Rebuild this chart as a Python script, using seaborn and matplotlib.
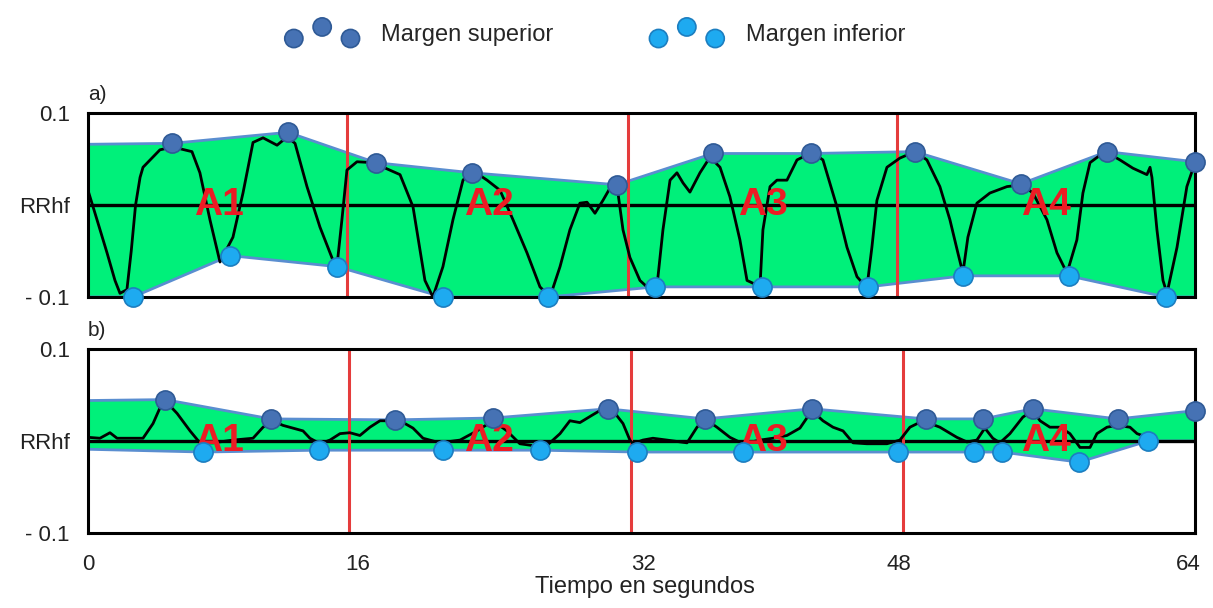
import matplotlib
matplotlib.use("Agg")
import matplotlib.pyplot as plt
import seaborn as sns
import pandas as pd

# =====================================================
# Data
# =====================================================

# panel a: RRhf signal
a_t = [0, 0.52, 1.10, 1.56, 1.85, 2.25, 2.50, 2.75, 3.01, 3.18, 4.16, 4.91, 6.01, 6.47,
       7.05, 7.63, 8.38, 8.96, 9.54, 10.12, 10.93, 11.51, 11.97, 12.66, 13.41, 14.16,
       14.39, 14.68, 14.97, 15.55, 16.48, 18.04, 18.79, 19.48, 19.94, 20.52, 21.10,
       21.68, 22.20, 23.07, 23.82, 24.57, 25.38, 26.13, 26.71, 27.29, 27.86, 28.44,
       28.85, 29.31, 29.77, 30.35, 30.64, 30.93, 31.33, 31.91, 32.49, 32.89, 33.24,
       33.65, 34.05, 34.40, 34.80, 35.38, 35.96, 36.54, 37.11, 37.69, 38.10, 38.44,
       38.85, 39.02, 39.43, 39.83, 40.41, 40.99, 41.85, 42.49, 43.30, 43.88, 44.46,
       45.03, 45.32, 45.61, 46.19, 46.94, 47.81, 48.50, 49.25, 49.83, 50.29, 50.58,
       50.87, 51.39, 52.14, 53.13, 54.00, 54.63, 55.44, 56.02, 56.60, 57.17, 57.52,
       57.93, 58.50, 58.91, 59.66, 60.41, 61.22, 61.40, 61.51, 61.80, 62.15, 62.38,
       62.96, 63.53, 64.00]
a_rr = [0.016, -0.016, -0.052, -0.082, -0.096, -0.092, -0.050, 0.000, 0.030, 0.041, 0.060,
        0.063, 0.058, 0.035, -0.016, -0.062, -0.035, 0.013, 0.068, 0.073, 0.065, 0.074,
        0.067, 0.020, -0.024, -0.060, -0.067, -0.016, 0.038, 0.047, 0.046, 0.033, -0.002,
        -0.082, -0.100, -0.067, -0.016, 0.027, 0.038, 0.027, 0.016, -0.016, -0.052, -0.089,
        -0.100, -0.067, -0.027, 0.002, 0.003, -0.009, 0.005, 0.024, 0.013, -0.027, -0.057,
        -0.082, -0.092, -0.089, -0.027, 0.027, 0.035, 0.024, 0.014, 0.035, 0.052, 0.041,
        0.009, -0.038, -0.082, -0.085, -0.089, -0.027, 0.020, 0.027, 0.027, 0.049, 0.057,
        0.049, -0.002, -0.046, -0.078, -0.090, -0.046, 0.005, 0.041, 0.051, 0.058, 0.049,
        0.020, -0.016, -0.052, -0.074, -0.035, 0.002, 0.013, 0.020, 0.022, 0.013, -0.016,
        -0.052, -0.074, -0.038, 0.013, 0.046, 0.054, 0.057, 0.049, 0.040, 0.033, 0.041,
        0.030, -0.027, -0.082, -0.096, -0.046, 0.020, 0.046]

# panel a: upper / lower margin points
a_sup_t = [0, 4.86, 11.56, 16.65, 22.20, 30.58, 36.13, 41.80, 47.80, 53.94, 58.90, 64.0]
a_sup = [0.066, 0.067, 0.079, 0.046, 0.035, 0.022, 0.056, 0.056, 0.058, 0.023, 0.058, 0.047]
a_inf_t = [0, 2.60, 8.21, 14.40, 20.50, 26.60, 32.80, 38.96, 45.10, 50.60, 56.70, 62.30, 64.0]
a_inf = [-0.100, -0.100, -0.055, -0.067, -0.100, -0.100, -0.089, -0.089, -0.089, -0.077,
         -0.077, -0.100, -0.100]

# panel b: RRhf signal
b_t = [0, 0.69, 1.27, 1.68, 3.18, 3.76, 4.16, 4.45, 5.15, 5.90, 6.47, 7.23, 8.38, 9.54,
       10.12, 10.64, 11.27, 11.85, 12.43, 12.83, 13.41, 13.99, 14.57, 15.14, 15.72,
       16.30, 16.88, 17.75, 18.04, 18.79, 19.37, 20.35, 21.51, 22.49, 23.41, 24.22,
       24.97, 25.73, 26.53, 27.29, 27.86, 28.44, 29.14, 29.77, 30.35, 30.93, 31.33,
       31.51, 32.08, 32.66, 33.47, 34.63, 35.21, 35.67, 36.36, 37.11, 37.87, 38.85,
       39.60, 40.41, 41.16, 41.85, 42.49, 43.07, 43.65, 44.23, 45.03, 46.19, 46.94,
       47.52, 48.27, 49.25, 50.23, 50.81, 51.39, 51.85, 52.31, 52.72, 53.30, 54.05,
       54.63, 55.04, 55.61, 56.19, 56.77, 57.35, 57.93, 58.33, 58.91, 59.49, 60.24,
       60.65, 61.40]
b_rr = [0.004, 0.003, 0.009, 0.003, 0.003, 0.019, 0.036, 0.044, 0.030, 0.011, -0.002,
        -0.002, 0.001, 0.003, 0.015, 0.022, 0.017, 0.014, 0.011, 0.003, -0.003, 0.001,
        0.008, 0.009, 0.006, 0.015, 0.022, 0.022, 0.022, 0.014, 0.003, -0.002, 0.001,
        0.011, 0.022, 0.011, -0.003, -0.005, -0.005, 0.008, 0.022, 0.020, 0.028, 0.035,
        0.033, 0.019, 0.001, -0.003, 0.001, 0.003, 0.001, -0.002, 0.015, 0.024, 0.015,
        0.004, -0.003, 0.001, 0.003, 0.006, 0.014, 0.033, 0.022, 0.015, 0.011, -0.002,
        -0.003, -0.003, 0.001, 0.015, 0.022, 0.015, 0.004, -0.001, 0.001, 0.014, 0.003,
        -0.002, 0.008, 0.026, 0.033, 0.022, 0.015, 0.015, 0.008, -0.007, -0.007, 0.008,
        0.015, 0.017, 0.015, 0.008, 0.003]

# panel b: upper / lower margin points
b_sup_t = [0, 4.45, 10.58, 17.75, 23.41, 30.06, 35.67, 41.85, 48.44, 51.74, 54.63, 59.54, 64.0]
b_sup = [0.044, 0.045, 0.024, 0.023, 0.025, 0.035, 0.024, 0.035, 0.024, 0.024, 0.035,
         0.024, 0.033]
b_inf_t = [0, 6.65, 13.35, 20.52, 26.13, 31.74, 37.87, 46.83, 51.22, 52.84, 57.29, 61.28, 64.0]
b_inf = [-0.009, -0.012, -0.010, -0.010, -0.010, -0.012, -0.012, -0.012, -0.012, -0.012,
         -0.023, 0.000, 0.000]

# segment borders (red lines) and segment labels
a_borders = [15.0, 31.2, 46.8]
b_borders = [15.1, 31.4, 47.1]
seg_labels = ["A1", "A2", "A3", "A4"]
seg_t = [7.6, 23.2, 39.0, 55.4]

x_ticks = [0, 15.6, 32.1, 46.9, 63.6]
x_tick_labels = ["0", "16", "32", "48", "64"]
y_ticks = [0.1, 0.0, -0.1]
y_tick_labels = ["0.1", "RRhf", "- 0.1"]

# =====================================================
# Style
# =====================================================

sns.set_theme(style="white")
plt.rcParams["font.family"] = ["Liberation Sans", "DejaVu Sans"]

GREEN = "#00F07A"
ENV = "#5A8ED0"
SUP = "#4672B4"
SUP_EDGE = "#2F5A96"
INF = "#1EAAF0"
INF_EDGE = "#1C7EC0"
RED = "#E53C3C"
TXT = "#222222"

fig = plt.figure(figsize=(12.13, 6.08), dpi=100)

ax_a = fig.add_axes([88 / 1213, 1 - 297 / 608, 1107 / 1213, 184 / 608])
ax_b = fig.add_axes([88 / 1213, 1 - 533 / 608, 1107 / 1213, 184 / 608])


def draw_panel(ax, t, rr, sup_t, sup, inf_t, inf, borders, tag):

    # filled band between margins
    band = pd.DataFrame({
        "t": list(sup_t) + list(inf_t)[::-1],
        "v": list(sup) + list(inf)[::-1]
    })
    ax.fill(band["t"], band["v"], color=GREEN, zorder=1, lw=0)

    sns.lineplot(x=sup_t, y=sup, ax=ax, color=ENV, lw=2, estimator=None, zorder=2)
    sns.lineplot(x=inf_t, y=inf, ax=ax, color=ENV, lw=2, estimator=None, zorder=2)

    ax.axhline(0, color="black", lw=2.4, zorder=3)

    for b in borders:
        ax.axvline(b, color=RED, lw=2.2, zorder=3)

    sns.lineplot(x=t, y=rr, ax=ax, color="black", lw=2.0, estimator=None,
                 sort=False, zorder=4)

    for lab, xs in zip(seg_labels, seg_t):
        ax.text(xs, 0.0, lab, color="#EC1C24", fontsize=28, fontweight="bold",
                ha="center", va="center", zorder=6)

    sns.scatterplot(x=sup_t[1:], y=sup[1:], ax=ax, color=SUP, edgecolor=SUP_EDGE,
                    s=190, linewidth=1.2, zorder=7, clip_on=False, legend=False)
    sns.scatterplot(x=inf_t[1:-1], y=inf[1:-1], ax=ax, color=INF, edgecolor=INF_EDGE,
                    s=190, linewidth=1.2, zorder=7, clip_on=False, legend=False)

    ax.set_xlim(0, 64)
    ax.set_ylim(-0.1, 0.1)
    ax.set_yticks(y_ticks)
    ax.set_yticklabels(y_tick_labels, fontsize=16, color=TXT)
    ax.tick_params(axis="y", length=0, pad=13)
    ax.set_xlabel("")
    ax.set_ylabel("")

    for side in ["top", "bottom", "left", "right"]:
        ax.spines[side].set_color("black")
        ax.spines[side].set_linewidth(2.2)
        ax.spines[side].set_zorder(5)

    ax.text(0.0, 1.05, tag, transform=ax.transAxes, fontsize=15,
            ha="left", va="bottom", color=TXT)


draw_panel(ax_a, a_t, a_rr, a_sup_t, a_sup, a_inf_t, a_inf, a_borders, "a)")
draw_panel(ax_b, b_t, b_rr, b_sup_t, b_sup, b_inf_t, b_inf, b_borders, "b)")

ax_a.set_xticks([])
ax_b.set_xticks(x_ticks)
ax_b.set_xticklabels(x_tick_labels, fontsize=16, color=TXT)
ax_b.tick_params(axis="x", length=0, pad=15)

fig.text(645 / 1213, 1 - 587 / 608, "Tiempo en segundos", fontsize=17,
         ha="center", va="center", color=TXT)

# =====================================================
# Legend
# =====================================================

h_sup = ax_a.collections[-2]
h_inf = ax_a.collections[-1]

fig.legend(
    [h_sup, h_inf],
    ["Margen superior", "Margen inferior"],
    loc="center",
    bbox_to_anchor=(596 / 1213, 1 - 35 / 608),
    ncol=2,
    frameon=False,
    scatterpoints=3,
    scatteryoffsets=[0.15, 0.85, 0.15],
    handlelength=3.0,
    handletextpad=1.0,
    columnspacing=4.15,
    fontsize=17,
    markerscale=0.95
)

fig.savefig("out.png", dpi=100)
